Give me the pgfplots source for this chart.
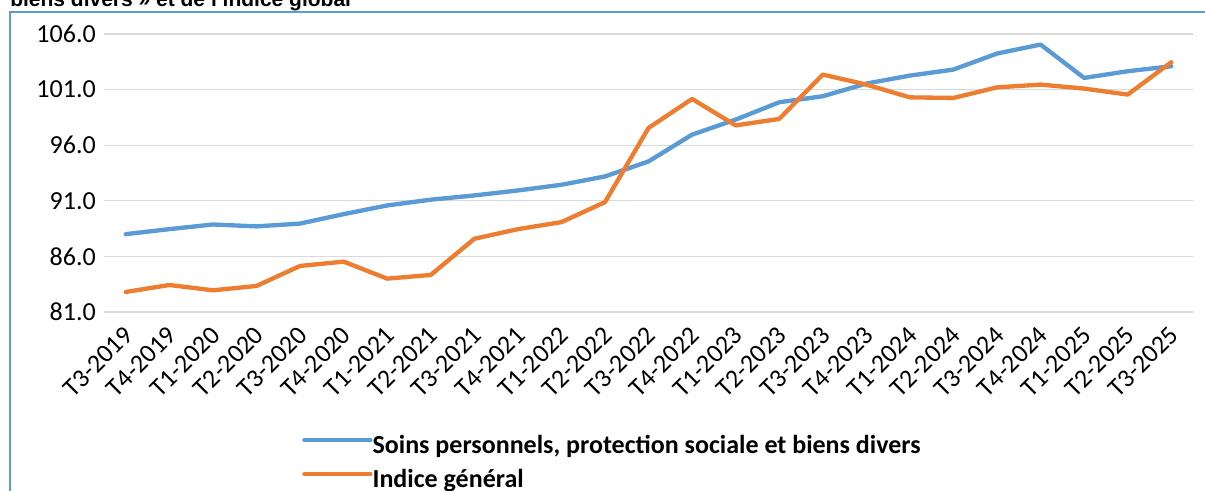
\documentclass[border=0pt]{standalone}
\usepackage{fontspec}
\setmainfont{Carlito}
\newfontfamily\titlefont{Liberation Sans}
\usepackage{pgfplots}
\usepackage{pgfplotstable}
\pgfplotsset{compat=1.18}
\definecolor{sblue}{HTML}{5B9BD5}
\definecolor{sorange}{HTML}{ED7D31}
\definecolor{gridgray}{HTML}{D9D9D9}
\definecolor{frameblue}{HTML}{5B9BD5}

\pgfplotstableread{
x soins indice
0 88.0 82.8
1 88.45 83.43
2 88.87 82.95
3 88.7 83.34
4 88.95 85.14
5 89.8 85.53
6 90.58 84.0
7 91.1 84.33
8 91.48 87.58
9 91.93 88.45
10 92.44 89.08
11 93.19 90.88
12 94.54 97.55
13 96.95 100.16
14 98.3 97.78
15 99.86 98.36
16 100.4 102.35
17 101.54 101.45
18 102.26 100.3
19 102.8 100.25
20 104.24 101.2
21 105.05 101.45
22 102.05 101.09
23 102.65 100.55
24 103.1 103.46
}\datatable

\begin{document}
\begin{tikzpicture}
\draw[color=frameblue, line width=1.5pt] (7.5pt,-10pt) -- (7.5pt,358.9pt) -- (920pt,358.9pt);
\node[anchor=base west, inner sep=0pt, font=\titlefont\bfseries\fontsize{15.75pt}{18pt}\selectfont] at (7.5pt,363pt) {biens divers » et de l’indice global};
\begin{axis}[
  at={(78pt,134.25pt)}, anchor=south west,
  scale only axis, width=816.75pt, height=208.5pt,
  xmin=-0.5, xmax=24.5, ymin=81, ymax=106,
  ytick={81,86,91,96,101,106},
  xtick={0,...,24},
  xticklabels={T3-2019,T4-2019,T1-2020,T2-2020,T3-2020,T4-2020,T1-2021,T2-2021,T3-2021,T4-2021,T1-2022,T2-2022,T3-2022,T4-2022,T1-2023,T2-2023,T3-2023,T4-2023,T1-2024,T2-2024,T3-2024,T4-2024,T1-2025,T2-2025,T3-2025},
  axis line style={draw=none},
  major tick length=0pt,
  ymajorgrids, grid style={color=gridgray, line width=1pt},
  /pgf/number format/assume math mode=true,
  yticklabel={\pgfmathprintnumber[fixed, fixed zerofill, precision=1]{\tick}},
  yticklabel style={anchor=east, inner sep=0pt, xshift=-6pt, font=\fontsize{19.5pt}{22pt}\selectfont},
  xticklabel style={yshift=-9.5pt, xshift=-2.5pt, rotate=45, anchor=north east, inner sep=0pt, font=\fontsize{19.5pt}{22pt}\selectfont},
  legend style={at={(0.1818,-0.546)}, anchor=west, draw=none, fill=none, inner sep=0pt,
    font=\bfseries\fontsize{19.5pt}{22pt}\selectfont, row sep=7.5pt,
    nodes={inner sep=0pt, text height=14pt, text depth=4pt}},
  legend cell align=left,
  legend image code/.code={\draw[#1, line width=3.25pt, line cap=round] (1.6pt,5pt) -- (45.6pt,5pt); \path (0pt,5pt) -- (49.5pt,5pt);},
  every axis plot/.append style={line width=3.25pt, line join=round, line cap=round},
]
\addplot[sblue] table[x=x, y=soins] {\datatable};
\addlegendentry{Soins personnels, protection sociale et biens divers}
\addplot[sorange] table[x=x, y=indice] {\datatable};
\addlegendentry{Indice général}
\end{axis}
\pgfresetboundingbox
\useasboundingbox (0,0) rectangle (903.75pt,368.25pt);
\end{tikzpicture}
\end{document}
